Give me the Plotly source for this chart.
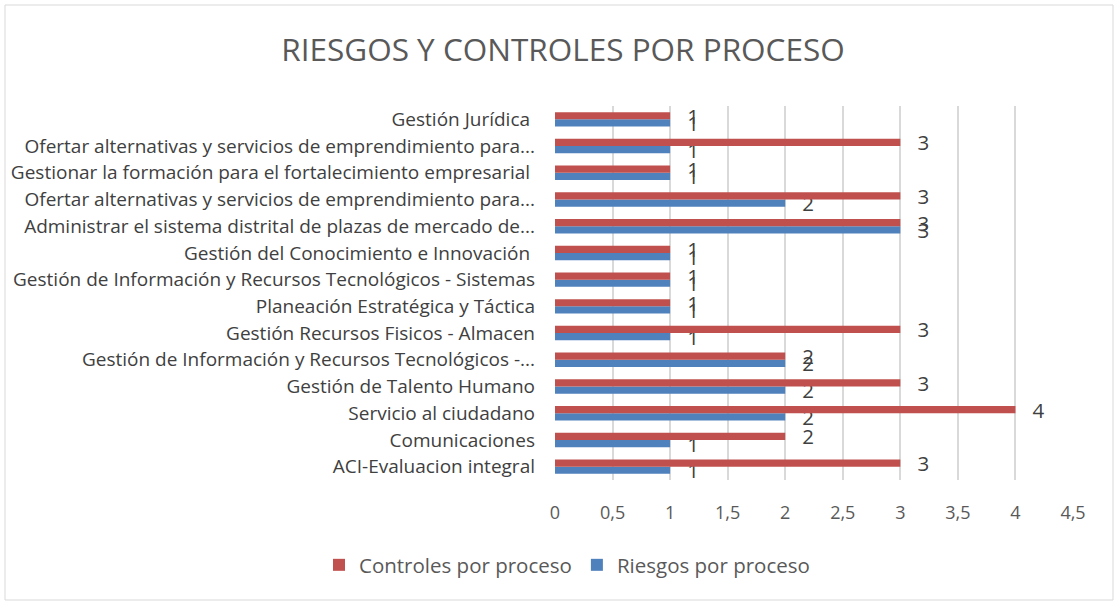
import plotly.graph_objects as go

categories = [
    "ACI-Evaluacion integral",
    "Comunicaciones",
    "Servicio al ciudadano",
    "Gestión de Talento Humano",
    "Gestión de Información y Recursos Tecnológicos -...",
    "Gestión Recursos Fisicos - Almacen",
    "Planeación Estratégica y Táctica",
    "Gestión de Información y Recursos Tecnológicos - Sistemas",
    "Gestión del Conocimiento e Innovación ",
    "Administrar el sistema distrital de plazas de mercado de...",
    "Ofertar alternativas y servicios de emprendimiento para...",
    "Gestionar la formación para el fortalecimiento empresarial ",
    "Ofertar alternativas y servicios de emprendimiento para...",
    "Gestión Jurídica ",
]
riesgos = [1, 1, 2, 2, 2, 1, 1, 1, 1, 3, 2, 1, 1, 1]
controles = [3, 2, 4, 3, 2, 3, 1, 1, 1, 3, 3, 1, 3, 1]
tick_vals = [0, 0.5, 1, 1.5, 2, 2.5, 3, 3.5, 4, 4.5]
tick_text = ["0", "0,5", "1", "1,5", "2", "2,5", "3", "3,5", "4", "4,5"]

# duplicate category labels need unique y keys
y_keys = list(range(len(categories)))

FONT = "'Open Sans', sans-serif"
pad = "\u00a0\u00a0\u2009"

fig = go.Figure()
fig.add_trace(go.Bar(
    name="Riesgos por proceso", y=y_keys, x=riesgos, orientation="h",
    marker=dict(color="#4f81bd"),
    text=[pad + str(v) for v in riesgos], textposition="outside",
    textfont=dict(size=20.5, color="#404040", family=FONT),
    constraintext="none", cliponaxis=False,
))
fig.add_trace(go.Bar(
    name="Controles por proceso", y=y_keys, x=controles, orientation="h",
    marker=dict(color="#c0504d"),
    text=[pad + str(v) for v in controles], textposition="outside",
    textfont=dict(size=20.5, color="#404040", family=FONT),
    constraintext="none", cliponaxis=False,
))

L, R, T, B = 555, 47, 106, 128
W, H = 1120, 608
pw, ph = W - L - R, H - T - B

fig.update_layout(
    template="none",
    width=W, height=H,
    margin=dict(l=L, r=R, t=T, b=B, autoexpand=False),
    paper_bgcolor="white", plot_bgcolor="white",
    font=dict(family=FONT, color="#595959"),
    title=dict(text="RIESGOS Y CONTROLES POR PROCESO", x=563 / W, xref="container",
               xanchor="center",
               y=1 - 50 / H, yref="container", yanchor="middle",
               font=dict(size=31.5, color="#595959", family=FONT)),
    barmode="group", bargap=0.46, bargroupgap=0,
    showlegend=True,
    legend=dict(orientation="h", x=567 / W, xanchor="center", xref="container",
                y=1 - 565 / H, yref="container", yanchor="middle",
                traceorder="reversed",
                font=dict(size=20.5, color="#595959", family=FONT)),
    xaxis=dict(range=[0, 4.5], tickvals=tick_vals, ticktext=tick_text,
               showgrid=True, gridcolor="#d9d9d9", gridwidth=2,
               zeroline=False, showline=False, ticks="", automargin=False,
               ticklabelstandoff=20,
               tickfont=dict(size=18, color="#595959", family=FONT)),
    yaxis=dict(tickvals=y_keys, ticktext=categories, range=[-0.5, len(categories) - 0.5],
               showgrid=False, zeroline=False, showline=False, ticks="",
               automargin=False, ticklabelstandoff=19,
               tickfont=dict(size=19, color="#404040", family=FONT)),
    shapes=[dict(type="rect", xref="paper", yref="paper",
                 x0=(5 - L) / pw, x1=(1113 - L) / pw,
                 y0=(H - B - 600) / ph, y1=(H - B - 5) / ph,
                 line=dict(color="#d9d9d9", width=1), layer="below")],
)

fig.write_html("out.html", config={"displayModeBar": False},
               post_script="document.body.style.margin='0';document.body.style.overflow='hidden';")
